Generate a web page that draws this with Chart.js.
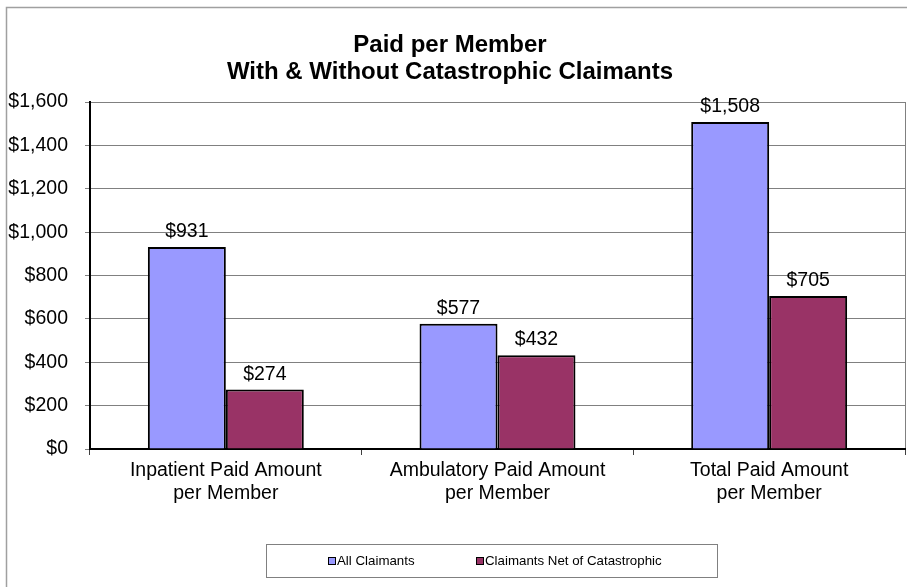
<!DOCTYPE html>
<html>
<head>
<meta charset="utf-8">
<script src="https://cdn.jsdelivr.net/npm/chart.js@4/dist/chart.umd.min.js"></script>
<style>
  body { margin: 0; background: #fff; }
  canvas { display: block; }
</style>
</head>
<body>
<canvas id="paidChart" width="907" height="587"></canvas>
<script>
const categories = [
  ['Inpatient Paid Amount', 'per Member'],
  ['Ambulatory Paid Amount', 'per Member'],
  ['Total Paid Amount', 'per Member']
];
const seriesNames = ['All Claimants', 'Claimants Net of Catastrophic'];
const allClaimants = [931, 577, 1508];
const netOfCatastrophic = [274, 432, 705];
const titleLines = ['Paid per Member', 'With & Without Catastrophic Claimants'];

const FONT = "'Liberation Sans', Arial, sans-serif";
const money = v => '$' + Number(v).toLocaleString('en-US');

// frame, plot border, title, value labels, legend
const decorations = {
  id: 'decorations',
  beforeDraw(chart) {
    const ctx = chart.ctx;
    const a = chart.chartArea;
    ctx.save();
    ctx.fillStyle = '#fff';
    ctx.fillRect(0, 0, chart.width, chart.height);
    ctx.strokeStyle = '#a0a0a0';
    ctx.lineWidth = 1.5;
    ctx.beginPath();
    ctx.moveTo(6.5, chart.height);
    ctx.lineTo(6.5, 7.5);
    ctx.lineTo(chart.width, 7.5);
    ctx.stroke();
    // plot area border (right side)
    ctx.strokeStyle = '#808080';
    ctx.lineWidth = 1;
    ctx.strokeRect(Math.round(a.left) + 0.5, Math.round(a.top) + 0.5, Math.round(a.right - a.left), Math.round(a.bottom - a.top));
    ctx.restore();
  },
  afterDraw(chart) {
    const ctx = chart.ctx;
    ctx.save();
    // title
    ctx.fillStyle = '#000';
    ctx.font = 'bold 24px ' + FONT;
    ctx.textAlign = 'center';
    ctx.textBaseline = 'middle';
    ctx.fillText(titleLines[0], 450, 45);
    ctx.fillText(titleLines[1], 450, 72);

    // value labels
    ctx.font = '19.5px ' + FONT;
    ctx.textBaseline = 'alphabetic';
    chart.data.datasets.forEach((ds, di) => {
      chart.getDatasetMeta(di).data.forEach((bar, i) => {
        ctx.fillText(money(ds.data[i]), bar.x, bar.y - 10);
      });
    });

    // legend
    ctx.strokeStyle = '#808080';
    ctx.lineWidth = 1;
    ctx.strokeRect(266.5, 544.5, 451, 33);
    ctx.font = '13.3px ' + FONT;
    ctx.textAlign = 'left';
    ctx.textBaseline = 'middle';
    const starts = [328, 476];
    chart.data.datasets.forEach((ds, di) => {
      const x = starts[di];
      ctx.fillStyle = ds.backgroundColor;
      ctx.fillRect(x, 557, 8, 8);
      ctx.strokeStyle = '#000';
      ctx.strokeRect(x + 0.5, 557.5, 7, 7);
      ctx.fillStyle = '#000';
      ctx.fillText(ds.label, x + 9, 561.5);
    });
    ctx.restore();
  }
};

new Chart(document.getElementById('paidChart'), {
  type: 'bar',
  data: {
    labels: categories,
    datasets: [
      { label: seriesNames[0], data: allClaimants, backgroundColor: '#9999ff', borderColor: '#000', borderWidth: 2 },
      { label: seriesNames[1], data: netOfCatastrophic, backgroundColor: '#993366', borderColor: '#000', borderWidth: 2 }
    ]
  },
  options: {
    responsive: false,
    animation: false,
    layout: { padding: { left: 0, top: 102, right: 2, bottom: 78 } },
    datasets: { bar: { categoryPercentage: 0.574, barPercentage: 1 } },
    plugins: {
      legend: { display: false },
      title: { display: false },
      tooltip: { enabled: false }
    },
    scales: {
      x: {
        afterFit(scale) { scale.height = 60; },
        grid: { offset: true, drawOnChartArea: false, tickLength: 6, tickColor: '#404040' },
        border: { color: '#000', width: 2 },
        ticks: { color: '#000', padding: 4, font: { family: FONT, size: 19.5, lineHeight: 1.18 } }
      },
      y: {
        min: 0,
        max: 1600,
        afterFit(scale) { scale.width = 90; },
        grid: { color: '#808080', tickLength: 5 },
        border: { color: '#000', width: 2 },
        ticks: { stepSize: 200, color: '#000', padding: 17, font: { family: FONT, size: 19.5 }, callback: v => money(v) }
      }
    }
  },
  plugins: [decorations]
});
</script>
</body>
</html>
